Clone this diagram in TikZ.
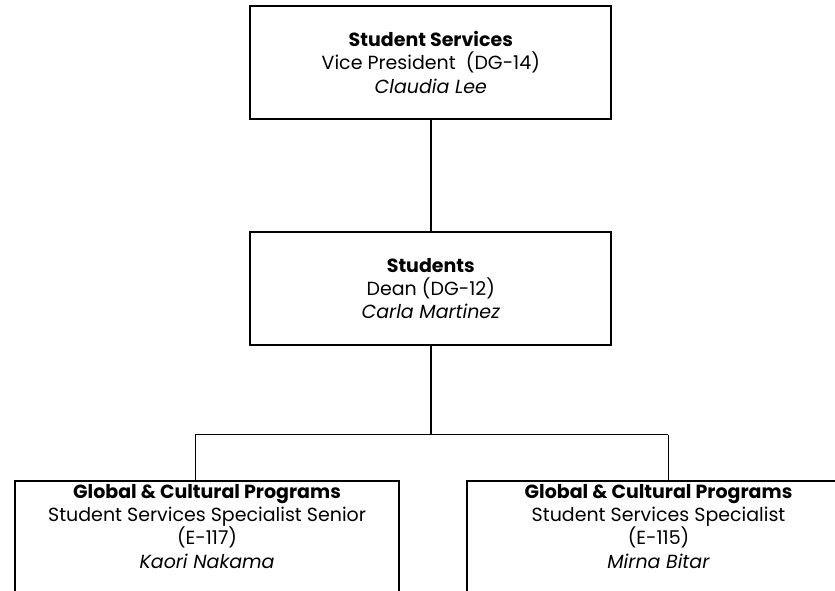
\documentclass[tikz,border=0pt]{standalone}
\usepackage{fontspec}
\setmainfont{Poppins}
\begin{document}
\begin{tikzpicture}[x=1pt,y=-1pt,
  box/.style={draw=black,line width=1.8pt,rectangle,inner sep=0pt},
  conn/.style={draw=black,line width=1.6pt},
  txt/.style={align=center,inner sep=0pt,font=\fontsize{19}{23.3}\selectfont}]
\useasboundingbox (0,0) rectangle (835,591);
\node[box,minimum width=361,minimum height=113] (vp) at (430.8,62.2) {};
\node[txt] (vptext) at (vp.center) {\textbf{Student Services}\\Vice President~~(DG-14)\\\textit{Claudia Lee}};
\node[box,minimum width=361,minimum height=113] (dean) at (430.8,288.4) {};
\node[txt] (deantext) at (dean.center) {\textbf{Students}\\Dean (DG-12)\\\textit{Carla Martinez}};
\node[box,minimum width=383.5,minimum height=160,anchor=north west] (gl) at (14.4,480) {};
\node[txt,anchor=north] (gltext) at ([yshift=-4]gl.north) {\textbf{Global \& Cultural Programs}\\Student Services Specialist Senior\\(E-117)\\\textit{Kaori Nakama}};
\node[box,minimum width=383.5,minimum height=160,anchor=north west] (gr) at (465.9,480) {};
\node[txt,anchor=north] (grtext) at ([yshift=-4]gr.north) {\textbf{Global \& Cultural Programs}\\Student Services Specialist\\(E-115)\\\textit{Mirna Bitar}};
\coordinate (hl) at (195.4,434.6);
\coordinate (hr) at (668.3,434.6);
\draw[conn] (vp.south) -- (dean.north);
\draw[conn] (dean.south) -- (dean.south |- hl);
\draw[conn] (hl) -- (hr);
\draw[conn] (hl) -- (hl |- gl.north);
\draw[conn] (hr) -- (hr |- gr.north);
\end{tikzpicture}
\end{document}
